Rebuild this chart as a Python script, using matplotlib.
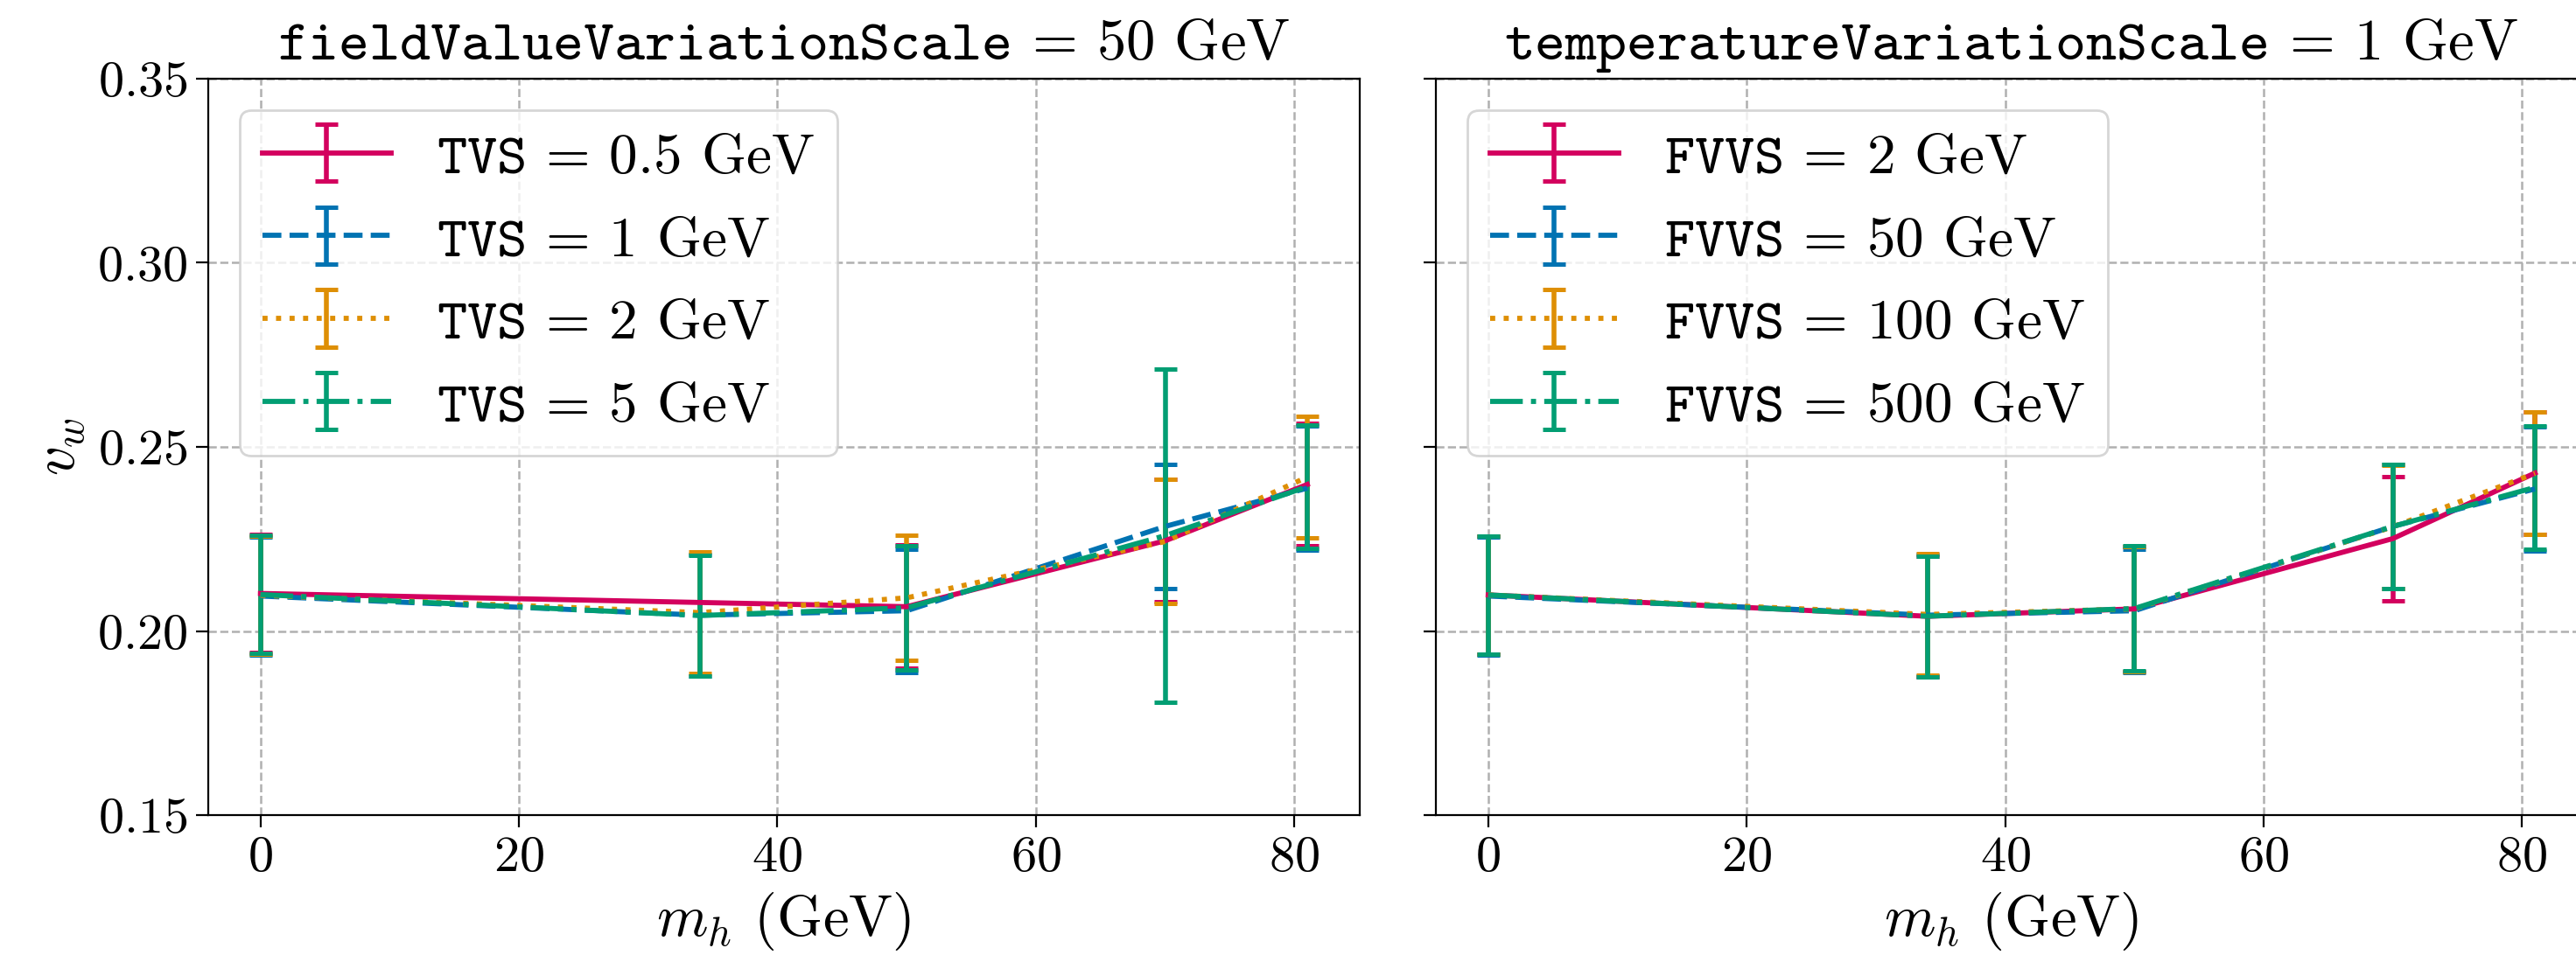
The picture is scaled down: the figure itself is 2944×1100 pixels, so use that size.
import numpy as np
import matplotlib
matplotlib.use('Agg')
import matplotlib.pyplot as plt

# computer modern look
plt.rcParams['font.family'] = 'serif'
plt.rcParams['font.serif'] = ['cmr10']
plt.rcParams['mathtext.fontset'] = 'cm'
plt.rcParams['axes.formatter.use_mathtext'] = True
plt.rcParams['axes.unicode_minus'] = False

colors = ['#d3005e', '#0173b2', '#de8f05', '#029e73']
styles = ['-', '--', ':', '-.']

# left panel: fieldValueVariationScale = 50 GeV, varying TVS
left_labels = [r'$\mathtt{TVS}$ = 0.5 GeV', r'$\mathtt{TVS}$ = 1 GeV',
               r'$\mathtt{TVS}$ = 2 GeV', r'$\mathtt{TVS}$ = 5 GeV']
left_mh = [[0, 50, 70, 81],
           [0, 34, 50, 70, 81],
           [0, 34, 50, 70, 81],
           [0, 34, 50, 70, 81]]
left_vw = [[0.2102, 0.2066, 0.2245, 0.2398],
           [0.2095, 0.2043, 0.2055, 0.2284, 0.2388],
           [0.2097, 0.2050, 0.2090, 0.2243, 0.2418],
           [0.2099, 0.2042, 0.2063, 0.2259, 0.2392]]
left_err = [[0.0160, 0.0168, 0.0166, 0.0166],
            [0.0160, 0.0165, 0.0168, 0.0169, 0.0168],
            [0.0160, 0.0165, 0.0169, 0.0169, 0.0166],
            [0.0160, 0.0164, 0.0168, 0.0453, 0.0168]]

# right panel: temperatureVariationScale = 1 GeV, varying FVVS
right_labels = [r'$\mathtt{FVVS}$ = 2 GeV', r'$\mathtt{FVVS}$ = 50 GeV',
                r'$\mathtt{FVVS}$ = 100 GeV', r'$\mathtt{FVVS}$ = 500 GeV']
right_mh = [0, 34, 50, 70, 81]
right_vw = [[0.2098, 0.2040, 0.2060, 0.2251, 0.2429],
            [0.2095, 0.2043, 0.2055, 0.2284, 0.2386],
            [0.2098, 0.2045, 0.2060, 0.2283, 0.2428],
            [0.2098, 0.2040, 0.2061, 0.2284, 0.2390]]
right_err = [[0.0160, 0.0164, 0.0170, 0.0169, 0.0166],
             [0.0160, 0.0165, 0.0168, 0.0169, 0.0168],
             [0.0160, 0.0165, 0.0170, 0.0168, 0.0166],
             [0.0160, 0.0164, 0.0170, 0.0169, 0.0167]]

fig = plt.figure(figsize=(14.72, 5.5), dpi=200)
ax1 = fig.add_axes([0.0808, 0.1527, 0.4470, 0.7655])
ax2 = fig.add_axes([0.5574, 0.1527, 0.4470, 0.7655], sharey=ax1)


def draw_panel(ax, xs, ys, errs, labels):
    for i in range(4):
        x = xs[i] if isinstance(xs[0], list) else xs
        ax.errorbar(x, ys[i], yerr=errs[i], color=colors[i], ls=styles[i],
                    lw=2.1, elinewidth=2.0, capsize=4.7, capthick=1.8, label=labels[i])
    ax.grid(True, ls='--', color='#b0b0b0', lw=0.9)
    ax.set_axisbelow(True)
    ax.set_xticks([0, 20, 40, 60, 80])
    ax.tick_params(labelsize=21, length=5)
    ax.set_xlabel(r'$m_h$ (GeV)', fontsize=24)
    ax.legend(loc='upper left', fontsize=23.5, labelspacing=0.55, handlelength=2.25,
              handletextpad=0.8, borderaxespad=0.55, edgecolor='#cccccc')


draw_panel(ax1, left_mh, left_vw, left_err, left_labels)
draw_panel(ax2, right_mh, right_vw, right_err, right_labels)

ax1.set_ylim(0.15, 0.35)
ax1.set_yticks([0.15, 0.20, 0.25, 0.30, 0.35])
ax1.set_ylabel(r'$v_w$', fontsize=24)
ax2.tick_params(labelleft=False)

ax1.set_title(r'$\mathtt{fieldValueVariationScale}$ = 50 GeV', fontsize=24, pad=8)
ax2.set_title(r'$\mathtt{temperatureVariationScale}$ = 1 GeV', fontsize=24, pad=8)

fig.savefig('out.png', dpi=200)
